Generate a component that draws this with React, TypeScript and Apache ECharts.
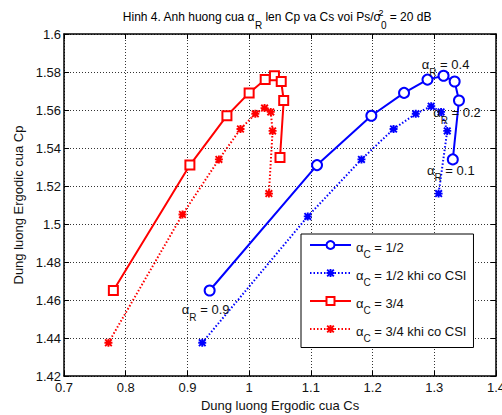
import React, { useEffect, useRef } from 'react';
import * as echarts from 'echarts';

// alpha_R value of each point (same order in every series)
const alphaR = [0.9, 0.8, 0.7, 0.6, 0.5, 0.4, 0.3, 0.2, 0.1];

// alpha_C = 1/2
const csHalf = [0.936, 1.110, 1.198, 1.251, 1.289, 1.315, 1.333, 1.340, 1.330];
const cpHalf = [1.465, 1.531, 1.557, 1.569, 1.576, 1.578, 1.575, 1.565, 1.534];
// alpha_C = 1/2 khi co CSI
const csHalfCsi = [0.924, 1.095, 1.182, 1.234, 1.270, 1.295, 1.311, 1.321, 1.307];
const cpHalfCsi = [1.4375, 1.504, 1.534, 1.550, 1.558, 1.562, 1.559, 1.549, 1.516];
// alpha_C = 3/4
const csThreeQ = [0.780, 0.904, 0.964, 1.000, 1.026, 1.041, 1.052, 1.056, 1.050];
const cpThreeQ = [1.465, 1.531, 1.557, 1.569, 1.576, 1.578, 1.575, 1.565, 1.535];
// alpha_C = 3/4 khi co CSI
const csThreeQCsi = [0.772, 0.892, 0.951, 0.986, 1.010, 1.025, 1.035, 1.038, 1.032];
const cpThreeQCsi = [1.4375, 1.505, 1.534, 1.550, 1.558, 1.561, 1.559, 1.549, 1.516];

const seriesNames = ['αC = 1/2', 'αC = 1/2 khi co CSI', 'αC = 3/4', 'αC = 3/4 khi co CSI'];

const xTicks = [0.7, 0.8, 0.9, 1.0, 1.1, 1.2, 1.3, 1.4];
const yTicks = [1.42, 1.44, 1.46, 1.48, 1.5, 1.52, 1.54, 1.56, 1.58, 1.6];

// alpha_R values annotated on the alpha_C = 1/2 curve
const annotatedAlpha = [0.9, 0.4, 0.2, 0.1];

// label offsets (style only)
const labelOffsets: Record<string, [number, number]> = {
  '0.9': [-4, 17],
  '0.4': [2, -13],
  '0.2': [-2, 10],
  '0.1': [-2, 9],
};

const FONT = '"Liberation Sans", Arial, Helvetica, sans-serif';

const STAR =
  'path://M3.8 0 H6.2 V10 H3.8 Z M0 3.8 H10 V6.2 H0 Z M1.7 0 L10 8.3 L8.3 10 L0 1.7 Z M8.3 0 L10 1.7 L1.7 10 L0 8.3 Z';

const richSub = {
  m: { fontSize: 13, lineHeight: 15, padding: [3, 0, 0, 0], verticalAlign: 'top', color: '#111', fontFamily: FONT, fontWeight: 'normal' },
  s: { fontSize: 10, lineHeight: 10, padding: [12, 0, 0, 0], verticalAlign: 'top', color: '#111', fontFamily: FONT, fontWeight: 'normal' },
};

const richLegend = {
  m: { fontSize: 13, lineHeight: 14, padding: [2.5, 0, 0, 0], verticalAlign: 'top', color: '#111', fontFamily: FONT, fontWeight: 'normal' },
  s: { fontSize: 10, lineHeight: 8, padding: [11, 0, 0, 0], verticalAlign: 'top', color: '#111', fontFamily: FONT, fontWeight: 'normal' },
};

const pairs = (xs: number[], ys: number[]) => xs.map((x, i) => [x, ys[i]]);

export default function App() {
  const ref = useRef<HTMLDivElement>(null);

  useEffect(() => {
    document.body.style.margin = '0';
    if (!ref.current) return;
    const chart = echarts.init(ref.current, null, { renderer: 'svg' });

    const halfData = pairs(csHalf, cpHalf).map((p, i) => {
      const a = alphaR[i];
      if (annotatedAlpha.indexOf(a) >= 0) {
        return {
          value: p,
          label: {
            show: true,
            position: 'inside',
            offset: labelOffsets[String(a)],
            formatter: `{m|α}{s|R}{m| = ${a}}`,
            rich: richSub,
          },
        };
      }
      return { value: p };
    });

    const xMin = xTicks[0];
    const xMax = xTicks[xTicks.length - 1];
    const xInt = 0.1;
    const yMin = yTicks[0];
    const yMax = yTicks[yTicks.length - 1];
    const yInt = 0.02;

    const axisLine = { show: true, lineStyle: { color: '#000', width: 1.5 } };
    const axisTick = { show: true, inside: true, length: 5, lineStyle: { color: '#000', width: 1 } };
    const splitLine = { show: true, lineStyle: { color: '#333', width: 1, type: [1, 2] } };

    chart.setOption({
      animation: false,
      textStyle: { fontFamily: FONT },
      title: {
        text: '{m|Hinh 4. Anh huong cua α}{s|R}{m| len Cp va Cs voi Ps/σ}{p|2}{s|0}{m| = 20 dB}',
        left: 277,
        top: 8,
        padding: 0,
        textAlign: 'center',
        textStyle: {
          fontFamily: FONT,
          fontWeight: 'normal',
          rich: {
            m: { fontSize: 12, lineHeight: 14, padding: [3, 0, 0, 0], verticalAlign: 'top', color: '#000', fontFamily: FONT, fontWeight: 'normal' },
            p: { fontSize: 9, lineHeight: 9, padding: [0, 0, 0, 0], width: 0.01, verticalAlign: 'top', color: '#000', fontFamily: FONT, fontWeight: 'normal' },
            s: { fontSize: 10, lineHeight: 10, padding: [12, 0, 0, 0], verticalAlign: 'top', color: '#000', fontFamily: FONT, fontWeight: 'normal' },
          },
        },
      },
      grid: { left: 64, right: 6, top: 34, bottom: 39, containLabel: false, outerBoundsMode: 'none' },
      legend: {
        show: true,
        orient: 'vertical',
        left: 301,
        top: 234,
        itemWidth: 41,
        itemHeight: 10,
        itemGap: 7,
        padding: [4, 7, 4.5, 8],
        backgroundColor: '#fff',
        borderColor: '#000',
        borderWidth: 1,
        selectedMode: false,
        data: seriesNames,
        formatter: (name: string) => `{m|α}{s|C}{m|${name.slice(2)}}`,
        textStyle: { fontSize: 13, color: '#111', fontFamily: FONT, rich: richLegend },
      },
      xAxis: [
        {
          type: 'value',
          min: xMin,
          max: xMax,
          interval: xInt,
          name: 'Dung luong Ergodic cua Cs',
          nameLocation: 'middle',
          nameGap: 23,
          nameTextStyle: { fontSize: 13, color: '#111', fontFamily: FONT },
          axisLine,
          axisTick,
          splitLine,
          axisLabel: {
            margin: 5,
            fontSize: 13,
            color: '#111',
            fontFamily: FONT,
            formatter: (v: number) => String(Math.round(v * 10) / 10),
          },
        },
        {
          type: 'value',
          position: 'top',
          min: xMin,
          max: xMax,
          interval: xInt,
          axisLine,
          axisTick,
          splitLine: { show: false },
          axisLabel: { show: false },
        },
      ],
      yAxis: [
        {
          type: 'value',
          min: yMin,
          max: yMax,
          interval: yInt,
          name: 'Dung luong Ergodic cua Cp',
          nameLocation: 'middle',
          nameGap: 36,
          nameTextStyle: { fontSize: 13, color: '#111', fontFamily: FONT },
          axisLine,
          axisTick,
          splitLine,
          axisLabel: {
            margin: 3,
            fontSize: 13,
            color: '#111',
            fontFamily: FONT,
            formatter: (v: number) => String(Math.round(v * 100) / 100),
          },
        },
        {
          type: 'value',
          position: 'right',
          min: yMin,
          max: yMax,
          interval: yInt,
          axisLine,
          axisTick,
          splitLine: { show: false },
          axisLabel: { show: false },
        },
      ],
      series: [
        {
          name: seriesNames[0],
          type: 'line',
          data: halfData,
          symbol: 'emptyCircle',
          symbolSize: 10,
          showSymbol: true,
          lineStyle: { color: '#0000ff', width: 2 },
          itemStyle: { color: '#0000ff', borderColor: '#0000ff', borderWidth: 1.6 },
          z: 3,
        },
        {
          name: seriesNames[1],
          type: 'line',
          data: pairs(csHalfCsi, cpHalfCsi),
          symbol: STAR,
          symbolSize: 8,
          showSymbol: true,
          lineStyle: { color: '#0000ff', width: 2, type: [1.5, 2] },
          itemStyle: { color: '#0000ff', borderWidth: 0 },
          z: 2,
        },
        {
          name: seriesNames[2],
          type: 'line',
          data: pairs(csThreeQ, cpThreeQ),
          symbol: 'emptyRect',
          symbolSize: 9,
          showSymbol: true,
          lineStyle: { color: '#ff0000', width: 2 },
          itemStyle: { color: '#ff0000', borderColor: '#ff0000', borderWidth: 1.6 },
          z: 3,
        },
        {
          name: seriesNames[3],
          type: 'line',
          data: pairs(csThreeQCsi, cpThreeQCsi),
          symbol: STAR,
          symbolSize: 8,
          showSymbol: true,
          lineStyle: { color: '#ff0000', width: 2, type: [1.5, 2] },
          itemStyle: { color: '#ff0000', borderWidth: 0 },
          z: 2,
        },
      ],
    });

    return () => chart.dispose();
  }, []);

  return (
    <div
      ref={ref}
      style={{ width: 502, height: 415, position: 'absolute', left: 0, top: 0, background: '#fff' }}
    />
  );
}
